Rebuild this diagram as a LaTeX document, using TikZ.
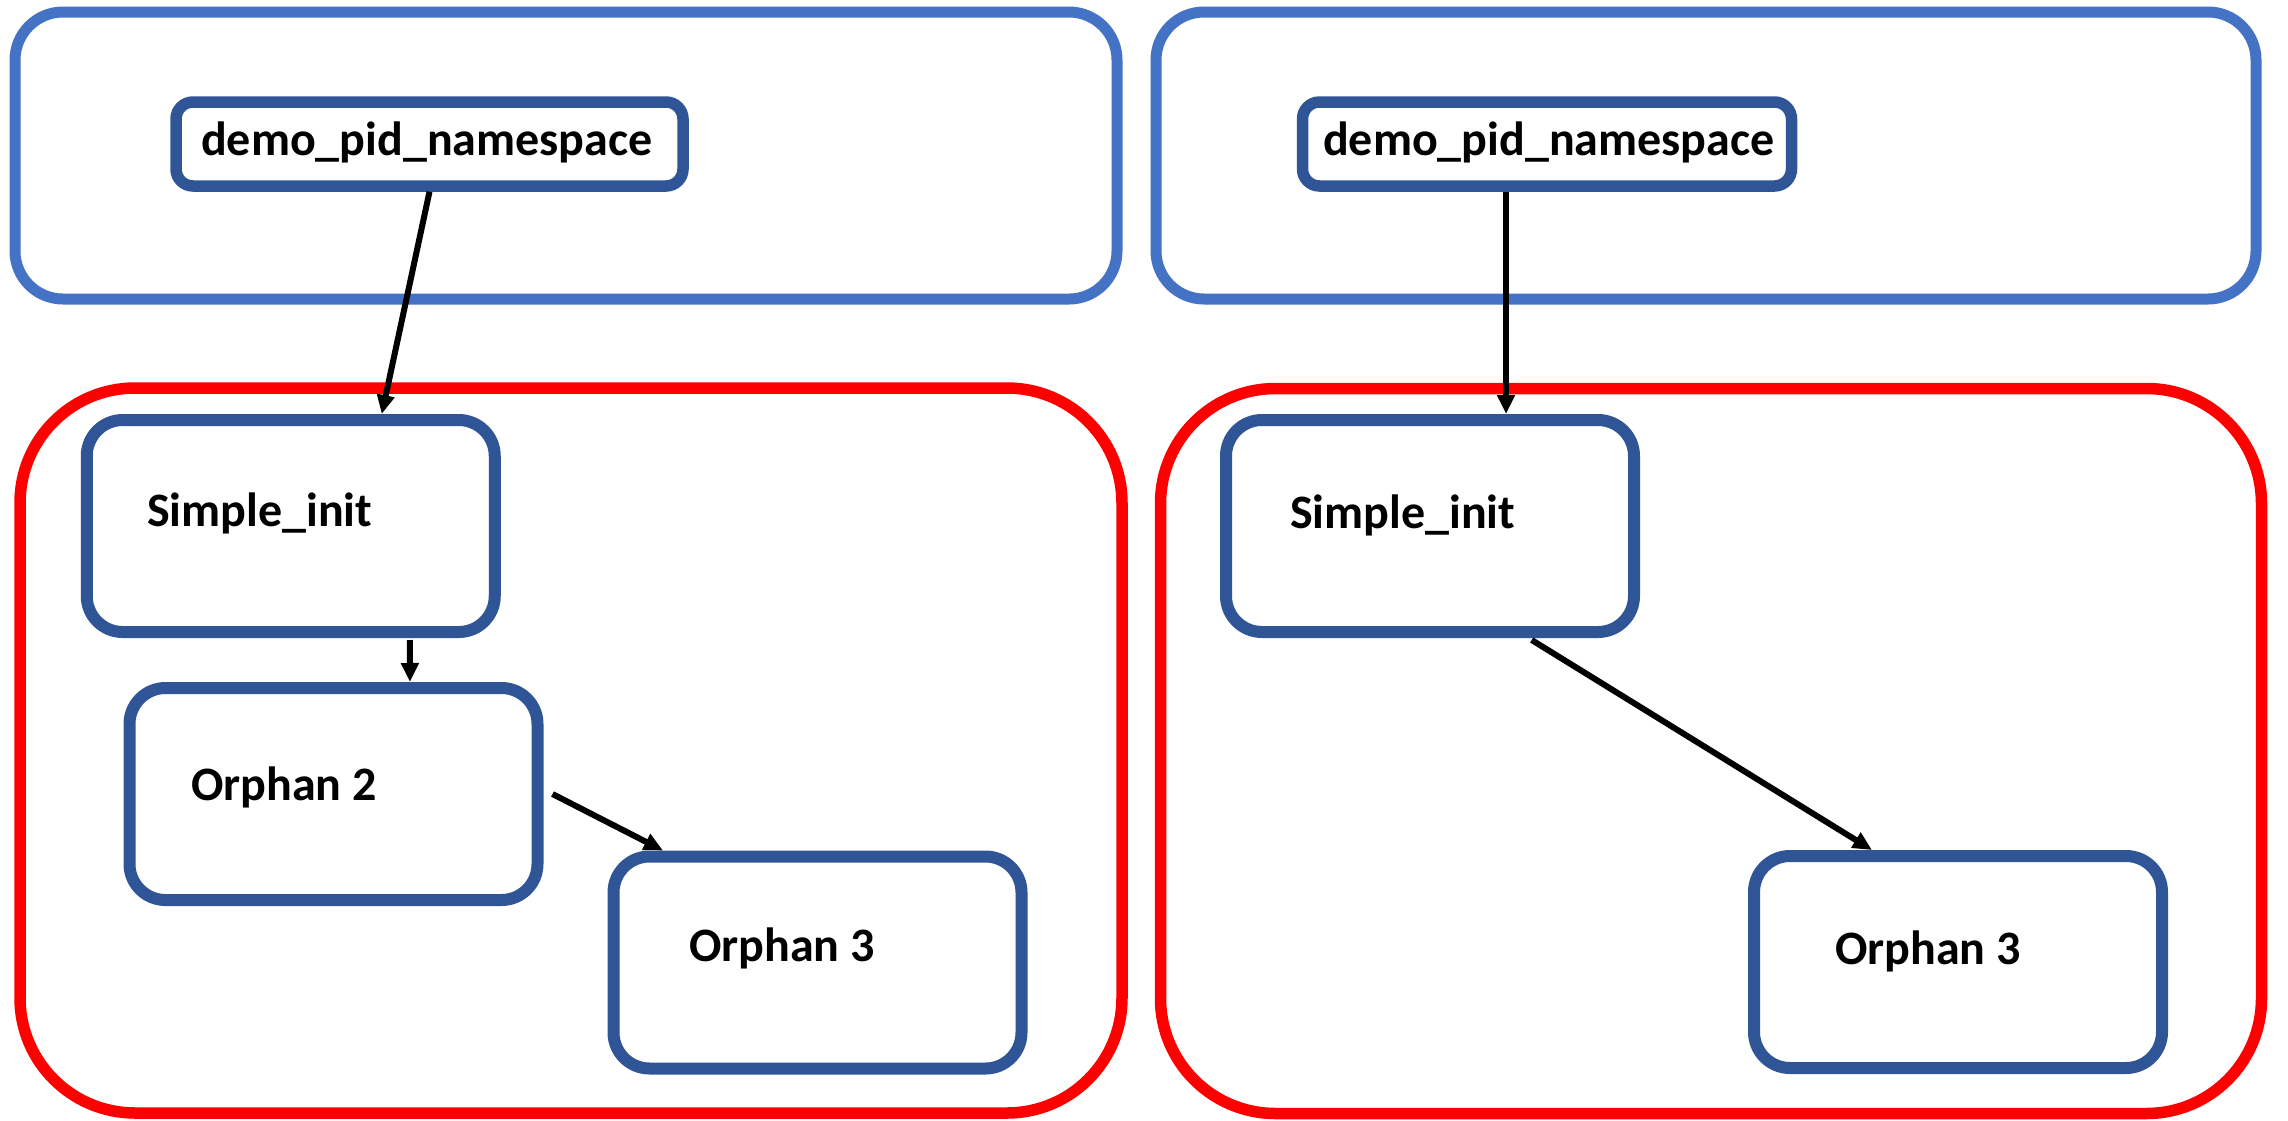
\documentclass[tikz,border=0pt]{standalone}
\usepackage{fontspec}
\setmainfont{Carlito}
\usetikzlibrary{arrows.meta}
\definecolor{outerblue}{HTML}{4472C4}
\definecolor{nodeblue}{HTML}{2F5597}
\definecolor{outerred}{HTML}{FF0000}
\begin{document}
\begin{tikzpicture}[x=1pt,y=-1pt,
  bluecont/.style={draw=outerblue, line width=11pt, rounded corners=48pt, rectangle, inner sep=0pt},
  redcont/.style={draw=outerred, line width=11.5pt, rounded corners=115pt, rectangle, inner sep=0pt},
  procbox/.style={draw=nodeblue, fill=white, line width=12pt, rounded corners=36pt, rectangle, inner sep=0pt, minimum width=408pt, minimum height=212pt},
  nsbox/.style={draw=nodeblue, fill=white, line width=11.5pt, rounded corners=17pt, rectangle, inner sep=0pt, minimum height=84pt},
  lbl/.style={font=\bfseries\fontsize{48}{58}\selectfont, inner sep=0pt, anchor=base west},
  conn/.style={draw=black, line width=6pt, -{Triangle[length=19pt,width=17pt]}}]
\useasboundingbox (0,0) rectangle (2288,1120);
% containers
\node[bluecont, minimum width=1102pt, minimum height=287pt] (blueL) at (566,155.5) {};
\node[bluecont, minimum width=1100pt, minimum height=287pt] (blueR) at (1706,155.5) {};
\node[redcont, minimum width=1102pt, minimum height=725pt] (redL) at (571,750.5) {};
\node[redcont, minimum width=1101pt, minimum height=725pt] (redR) at (1711,751) {};
% left side
\node[nsbox, minimum width=507pt] (demoL) at (429.5,144) {};
\node[lbl] (demoLt) at (201,155) {demo\_pid\_namespace};
\node[procbox] (siL) at (290.75,526) {};
\node[lbl] (siLt) at (147,526) {Simple\_init};
\node[procbox] (o2) at (333.5,794) {};
\node[lbl] (o2t) at (191,800) {Orphan 2};
\node[procbox] (o3L) at (817.5,962.5) {};
\node[lbl] (o3Lt) at (689,961) {Orphan 3};
% right side
\node[nsbox, minimum width=489pt] (demoR) at (1547,144) {};
\node[lbl] (demoRt) at (1323,155) {demo\_pid\_namespace};
\node[procbox] (siR) at (1430,526) {};
\node[lbl] (siRt) at (1290,528) {Simple\_init};
\node[procbox] (o3R) at (1958,962) {};
\node[lbl] (o3Rt) at (1835,964) {Orphan 3};
% connectors
\draw[conn] (demoL.south) -- ([xshift=91pt]siL.north);
\draw[conn] ([xshift=119pt,yshift=-2pt]siL.south) -- ([xshift=76.5pt]o2.north);
\draw[conn] ([xshift=9pt]o2.east) -- ([xshift=-154.5pt]o3L.north);
\draw[conn] ([xshift=-41pt]demoR.south) -- ([xshift=76pt]siR.north);
\draw[conn] ([xshift=101.7pt,yshift=-2pt]siR.south) -- ([xshift=-86pt]o3R.north);
\end{tikzpicture}
\end{document}
